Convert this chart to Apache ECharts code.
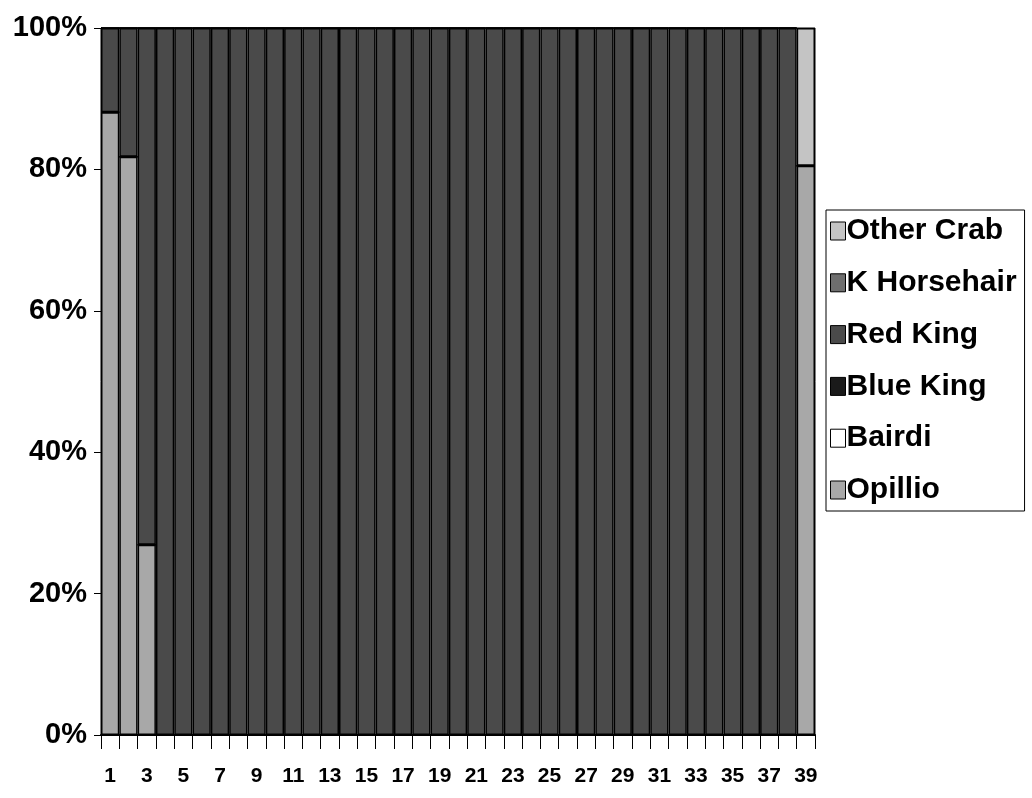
<!DOCTYPE html>
<html><head><meta charset="utf-8">
<script src="https://cdn.jsdelivr.net/npm/echarts@6/dist/echarts.min.js"></script>
<style>html,body{margin:0;padding:0;background:#fff}#c{width:1032px;height:798px}</style>
</head><body><div id="c"></div>
<script>
const categories = Array.from({length: 39}, (_, i) => String(i + 1));
const yTicks = ['0%', '20%', '40%', '60%', '80%', '100%'];
const seriesNames = ['Opillio', 'Bairdi', 'Blue King', 'Red King', 'K Horsehair', 'Other Crab'];
const opillio = [88.1, 81.8, 26.9, 0,0,0,0,0,0,0, 0,0,0,0,0,0,0,0,0,0, 0,0,0,0,0,0,0,0,0,0, 0,0,0,0,0,0,0,0, 80.5];
const bairdi = new Array(39).fill(0);
const blueKing = new Array(39).fill(0);
const redKing = [11.9, 18.2, 73.1, 100,100,100,100,100,100,100, 100,100,100,100,100,100,100,100,100,100, 100,100,100,100,100,100,100,100,100,100, 100,100,100,100,100,100,100,100, 0];
const kHorsehair = new Array(39).fill(0);
const otherCrab = [0,0,0, 0,0,0,0,0,0,0, 0,0,0,0,0,0,0,0,0,0, 0,0,0,0,0,0,0,0,0,0, 0,0,0,0,0,0,0,0, 19.5];

const colors = {
  'Opillio': '#a8a8a8', 'Bairdi': '#ffffff', 'Blue King': '#1a1a1a',
  'Red King': '#4a4a4a', 'K Horsehair': '#6e6e6e', 'Other Crab': '#c4c4c4'
};
const dataMap = {'Opillio': opillio, 'Bairdi': bairdi, 'Blue King': blueKing, 'Red King': redKing, 'K Horsehair': kHorsehair, 'Other Crab': otherCrab};
const FONT = 'Liberation Sans, Arial, sans-serif';

const chart = echarts.init(document.getElementById('c'), null, {renderer: 'canvas'});
chart.setOption({
  animation: false,
  backgroundColor: '#fff',
  grid: {left: 101, right: 217, top: 28, bottom: 63, show: true, borderColor: '#000', borderWidth: 1},
  legend: {
    orient: 'vertical', left: 826, top: 210,
    data: seriesNames.slice().reverse(),
    icon: 'rect',
    itemWidth: 15, itemHeight: 18, itemGap: 21.8,
    padding: [6, 8, 6, 4], borderColor: '#000', borderWidth: 1,
    textStyle: {fontFamily: FONT, fontWeight: 'bold', fontSize: 30, color: '#000', padding: [0,0,0,-4]},
    itemStyle: {borderColor: '#000', borderWidth: 1}
  },
  xAxis: {
    type: 'category', data: categories,
    axisLine: {lineStyle: {color: '#000', width: 2}},
    axisTick: {show: true, length: 14, interval: 0, alignWithLabel: false, lineStyle: {color: '#000'}},
    axisLabel: {interval: 1, margin: 31, fontFamily: FONT, fontWeight: 'bold', fontSize: 21, color: '#000'}
  },
  yAxis: {
    type: 'value', min: 0, max: 100, interval: 20,
    axisLine: {show: true, lineStyle: {color: '#000'}},
    axisTick: {show: true, length: 7, lineStyle: {color: '#000'}},
    splitLine: {show: false},
    axisLabel: {margin: 14, fontFamily: FONT, fontWeight: 'bold', fontSize: 29, color: '#000',
      formatter: v => yTicks[Math.round(v / 20)]}
  },
  series: seriesNames.map(n => ({
    name: n, type: 'bar', stack: 'all', data: dataMap[n],
    barCategoryGap: '0%',
    itemStyle: {color: colors[n], borderColor: '#000', borderWidth: 1.5}
  }))
});
</script></body></html>
